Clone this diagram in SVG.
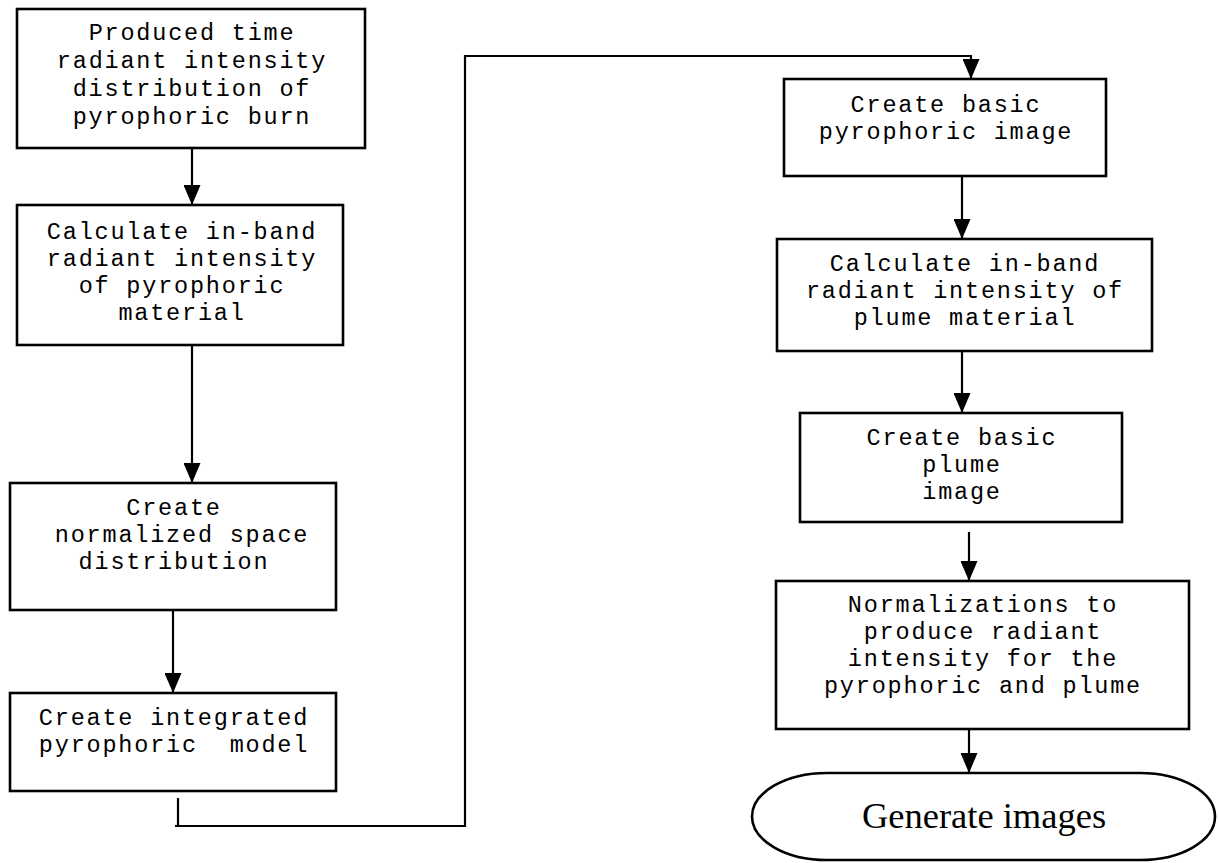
<svg xmlns="http://www.w3.org/2000/svg" width="1219" height="863" viewBox="0 0 1219 863">
<style>
.box{fill:#fff;stroke:#000;stroke-width:2.6}
.t{font-family:"Liberation Mono","Courier New",monospace;font-size:23.5px;letter-spacing:1.8px;fill:#000;text-anchor:middle}
.conn{fill:none;stroke:#000;stroke-width:2.2}
.term{font-family:"Liberation Serif","Times New Roman",serif;font-size:36.5px;fill:#000;text-anchor:middle}
</style>
<defs>
<marker id="ah" viewBox="0 0 20 17" refX="20" refY="8.5" markerWidth="20" markerHeight="17" markerUnits="userSpaceOnUse" orient="auto">
<path d="M0,0 L20,8.5 L0,17 Z" fill="#000"/>
</marker>
</defs>
<rect width="1219" height="863" fill="#fff"/>
<g id="connectors">
<line class="conn" x1="192" y1="148" x2="192" y2="205" marker-end="url(#ah)"/>
<line class="conn" x1="192" y1="345" x2="192" y2="483" marker-end="url(#ah)"/>
<line class="conn" x1="173" y1="610" x2="173" y2="693" marker-end="url(#ah)"/>
<path class="conn" d="M178,798 L178,826 M175,826 L465,826 L465,56 L971,56 L971,79" marker-end="url(#ah)"/>
<line class="conn" x1="962" y1="176" x2="962" y2="239" marker-end="url(#ah)"/>
<line class="conn" x1="962" y1="351" x2="962" y2="413" marker-end="url(#ah)"/>
<line class="conn" x1="969" y1="532" x2="969" y2="581" marker-end="url(#ah)"/>
<line class="conn" x1="969" y1="729" x2="969" y2="773" marker-end="url(#ah)"/>
</g>
<g id="n1">
<rect class="box" x="17" y="9" width="348" height="139"/>
<text class="t" x="192" y="40">Produced time</text>
<text class="t" x="192" y="68">radiant intensity</text>
<text class="t" x="192" y="96">distribution of</text>
<text class="t" x="192" y="124">pyrophoric burn</text>
</g>
<g id="n2">
<rect class="box" x="17" y="205" width="326" height="140"/>
<text class="t" x="182" y="239">Calculate in-band</text>
<text class="t" x="182" y="266">radiant intensity</text>
<text class="t" x="182" y="293">of pyrophoric</text>
<text class="t" x="182" y="320">material</text>
</g>
<g id="n3">
<rect class="box" x="10" y="483" width="326" height="127"/>
<text class="t" x="174" y="515">Create</text>
<text class="t" x="182" y="542">normalized space</text>
<text class="t" x="174" y="569">distribution</text>
</g>
<g id="n4">
<rect class="box" x="10" y="693" width="326" height="98"/>
<text class="t" x="174" y="725">Create integrated</text>
<text class="t" x="174" y="752" xml:space="preserve">pyrophoric  model</text>
</g>
<g id="n5">
<rect class="box" x="784" y="79" width="322" height="97"/>
<text class="t" x="946" y="112">Create basic</text>
<text class="t" x="946" y="139">pyrophoric image</text>
</g>
<g id="n6">
<rect class="box" x="777" y="239" width="375" height="112"/>
<text class="t" x="965" y="271">Calculate in-band</text>
<text class="t" x="965" y="298">radiant intensity of</text>
<text class="t" x="965" y="325">plume material</text>
</g>
<g id="n7">
<rect class="box" x="800" y="413" width="322" height="109"/>
<text class="t" x="962" y="445">Create basic</text>
<text class="t" x="962" y="472">plume</text>
<text class="t" x="962" y="499">image</text>
</g>
<g id="n8">
<rect class="box" x="776" y="581" width="413" height="148"/>
<text class="t" x="983" y="612">Normalizations to</text>
<text class="t" x="983" y="639">produce radiant</text>
<text class="t" x="983" y="666">intensity for the</text>
<text class="t" x="983" y="693">pyrophoric and plume</text>
</g>
<g id="n9">
<rect class="box" x="752" y="773" width="463" height="87" rx="75" ry="43.5"/>
<text class="term" x="984" y="828">Generate images</text>
</g>
</svg>
